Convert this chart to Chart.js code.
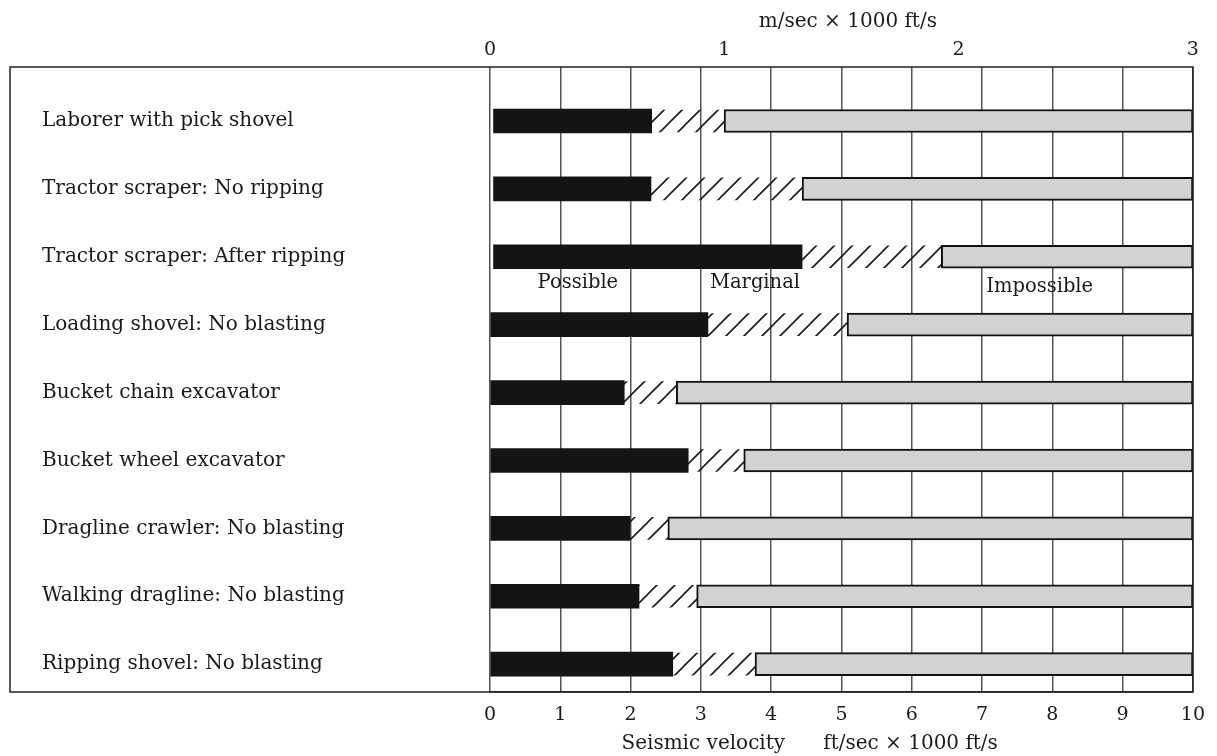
<!DOCTYPE html>
<html>
<head>
<meta charset="utf-8">
<title>Rippability by seismic velocity</title>
<script src="https://cdn.jsdelivr.net/npm/chart.js@4.4.1/dist/chart.umd.min.js"></script>
<style>
	html, body {margin: 0; padding: 0; background: #fff;}
	#wrap {width: 1217px; height: 756px;}
</style>
</head>
<body>
<div id="wrap"><canvas id="chart" width="1217" height="756"></canvas></div>
<script>
'use strict';

const categories = [
	'Laborer with pick shovel',
	'Tractor scraper: No ripping',
	'Tractor scraper: After ripping',
	'Loading shovel: No blasting',
	'Bucket chain excavator',
	'Bucket wheel excavator',
	'Dragline crawler: No blasting',
	'Walking dragline: No blasting',
	'Ripping shovel: No blasting'
];
//seismic velocity, ft/sec x 1000
const possibleStart = [0.05, 0.05, 0.05, 0, 0, 0, 0, 0, 0];
const possibleEnd = [2.30, 2.29, 4.44, 3.10, 1.91, 2.82, 1.99, 2.12, 2.60];
const impossibleStart = [3.33, 4.44, 6.42, 5.08, 2.65, 3.61, 2.53, 2.94, 3.77];
const impossibleEnd = [10, 10, 10, 10, 10, 10, 10, 10, 10];

const bottomTicks = [0, 1, 2, 3, 4, 5, 6, 7, 8, 9, 10];
const topTicks = [0, 1, 2, 3];

const zoneLabels = ['Possible', 'Marginal', 'Impossible'];
const zoneLabelX = [1.25, 3.77, 7.82];
const zoneLabelRow = [2.38, 2.38, 2.45];

const SERIF = '"DejaVu Serif", "Liberation Serif", serif';
const INK = '#1a1a1a';

/** Builds the diagonal hatch used for the marginal range.
 * @return {CanvasPattern} Repeating pattern. */
function makeHatch() {
	const tile = document.createElement('canvas');
	tile.width = 18;
	tile.height = 18;
	const g = tile.getContext('2d');
	g.strokeStyle = '#1a1a1a';
	g.lineWidth = 1.6;
	g.beginPath();
	g.moveTo(0, 18); g.lineTo(18, 0);
	g.moveTo(-4, 4); g.lineTo(4, -4);
	g.moveTo(14, 22); g.lineTo(22, 14);
	g.stroke();
	return g.createPattern(tile, 'repeat');
}

/** Pairs a start and end array into floating bar points for row index i. */
function rangeData(starts, ends) {
	return categories.map((_, i) => ({x: [starts[i], ends[i]], y: i}));
}

const plugins = [
	{
		id: 'frameAndNotes',
		afterDatasetsDraw: (chart) => {
			const {ctx, chartArea, scales} = chart;
			ctx.save();
			//outer box around labels and plot
			ctx.strokeStyle = '#222';
			ctx.lineWidth = 1.5;
			ctx.strokeRect(10, chartArea.top, chartArea.right - 10, chartArea.bottom - chartArea.top);
			//zone captions under the after-ripping row
			ctx.fillStyle = INK;
			ctx.font = '19.5px ' + SERIF;
			ctx.textAlign = 'center';
			ctx.textBaseline = 'middle';
			zoneLabels.forEach((text, i) => {
				ctx.fillText(text, scales.x.getPixelForValue(zoneLabelX[i]), scales.y.getPixelForValue(zoneLabelRow[i]));
			});
			ctx.restore();
		}
	}
];

const chart = new Chart(document.getElementById('chart'), {
	type: 'bar',
	data: {
		datasets: [
			{
				label: 'Possible',
				data: rangeData(possibleStart, possibleEnd),
				backgroundColor: '#141414',
				borderWidth: 0,
				barThickness: 24
			},
			{
				label: 'Marginal',
				data: rangeData(possibleEnd, impossibleStart),
				backgroundColor: makeHatch(),
				borderWidth: 0,
				barThickness: 22
			},
			{
				label: 'Impossible',
				data: rangeData(impossibleStart, impossibleEnd),
				backgroundColor: '#d2d2d2',
				borderColor: '#111',
				borderWidth: 2,
				borderSkipped: false,
				barThickness: 23
			}
		]
	},
	options: {
		indexAxis: 'y',
		responsive: false,
		animation: false,
		grouped: false,
		layout: {
			padding: {left: 42, right: 24, top: 0, bottom: 0}
		},
		plugins: {
			legend: {display: false},
			tooltip: {enabled: false}
		},
		scales: {
			x: {
				type: 'linear',
				position: 'bottom',
				min: 0,
				max: 10,
				afterFit: (scale) => { scale.height = 64; },
				afterBuildTicks: (scale) => { scale.ticks = bottomTicks.map(v => ({value: v})); },
				grid: {
					color: '#555',
					lineWidth: 1.5,
					drawTicks: false
				},
				border: {display: true, color: '#222', width: 1.5},
				ticks: {
					padding: 12,
					color: INK,
					font: {family: SERIF, size: 19}
				},
				title: {
					display: true,
					text: 'Seismic velocity      ft/sec \u00d7 1000 ft/s          ',
					color: INK,
					font: {family: SERIF, size: 20},
					padding: {top: 0, bottom: 0}
				}
			},
			x2: {
				type: 'linear',
				position: 'top',
				min: 0,
				max: 3,
				afterFit: (scale) => { scale.height = 67; },
				afterBuildTicks: (scale) => { scale.ticks = topTicks.map(v => ({value: v})); },
				grid: {display: false, drawTicks: false},
				border: {display: false},
				ticks: {
					padding: 6,
					color: INK,
					font: {family: SERIF, size: 19}
				},
				title: {
					display: true,
					text: '  m/sec \u00d7 1000 ft/s',
					color: INK,
					font: {family: SERIF, size: 20},
					padding: {top: 10, bottom: 0}
				}
			},
			y: {
				type: 'linear',
				reverse: true,
				offset: false,
				min: -0.795,
				max: 8.41,
				afterFit: (scale) => { scale.width = 448; },
				afterBuildTicks: (scale) => { scale.ticks = categories.map((_, i) => ({value: i})); },
				grid: {display: false, drawTicks: false, offset: false},
				border: {display: false},
				ticks: {
					crossAlign: 'far',
					color: INK,
					font: {family: SERIF, size: 20},
					callback: (value) => categories[value]
				}
			}
		}
	},
	plugins: plugins
});
</script>
</body>
</html>
